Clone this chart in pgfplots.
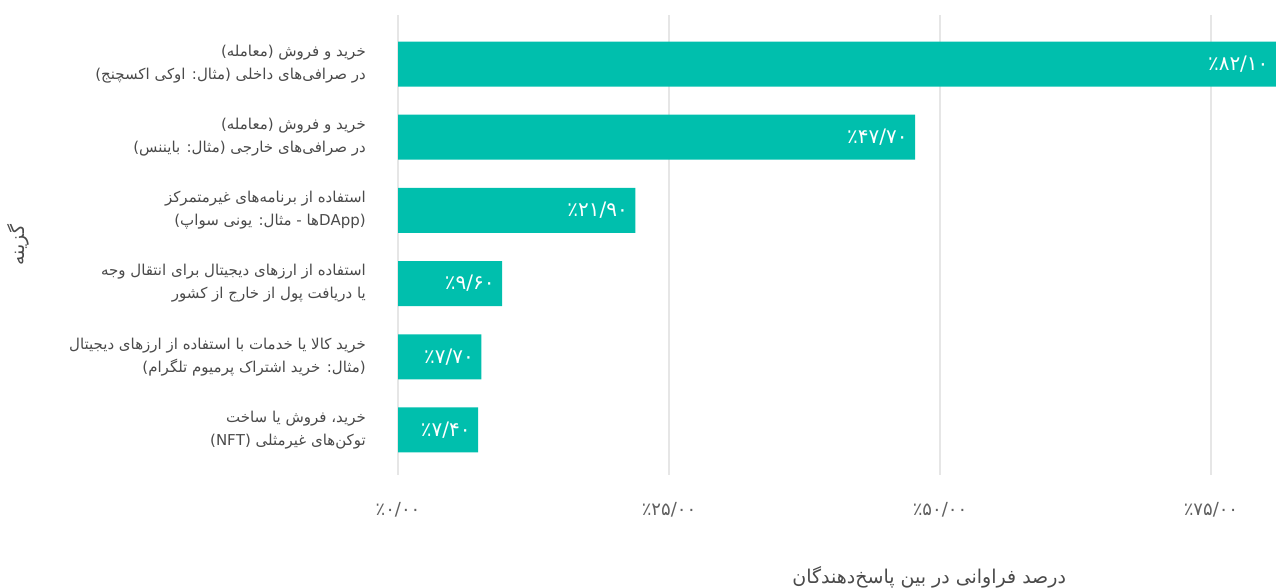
\documentclass[border=0pt]{standalone}
\usepackage{pgfplots}
\pgfplotsset{compat=1.18}
\usepackage{fontspec}
\setmainfont{DejaVu Sans}
\newfontfamily\fa[Script=Arabic]{DejaVu Sans}
\TeXXeTstate=1
\definecolor{barteal}{HTML}{00BFAD}
\definecolor{gridgray}{HTML}{E6E6E6}
\definecolor{labelgray}{HTML}{4A4A4A}
\definecolor{tickgray}{HTML}{606060}
\begin{document}
\begin{tikzpicture}[x=1pt,y=1pt]
\useasboundingbox (0,0) rectangle (1276,588);
\clip (0,0) rectangle (1276,588);
\begin{axis}[
  at={(398pt,113pt)}, anchor=south west,
  scale only axis, width=878pt, height=460pt,
  xmin=0, xmax=81,
  ymin=-0.67, ymax=5.615, y dir=reverse,
  axis line style={draw=none},
  major tick length=0pt,
  xmajorgrids, grid style={color=gridgray, line width=1.3pt},
  xtick={0,25,50,75},
  xticklabels={\beginR ٪۰/۰۰\endR, \beginR ٪۲۵/۰۰\endR, \beginR ٪۵۰/۰۰\endR, \beginR ٪۷۵/۰۰\endR},
  xticklabel style={font=\fa\fontsize{18}{18}\selectfont, text=tickgray, anchor=center, yshift=-35pt},
  ytick={0,1,2,3,4,5},
  yticklabels={
    {\beginR خرید و فروش (معامله)\endR\\\beginR در صرافی^^^^200cهای داخلی (مثال: اوکی اکسچنج)\endR},
    {\beginR خرید و فروش (معامله)\endR\\\beginR در صرافی^^^^200cهای خارجی (مثال: بایننس)\endR},
    {\beginR استفاده از برنامه^^^^200cهای غیرمتمرکز\endR\\\beginR (\beginL DApp\endL{}ها - مثال: یونی سواپ)\endR},
    {\beginR استفاده از ارزهای دیجیتال برای انتقال وجه\endR\\\beginR یا دریافت پول از خارج از کشور\endR},
    {\beginR خرید کالا یا خدمات با استفاده از ارزهای دیجیتال\endR\\\beginR (مثال: خرید اشتراک پرمیوم تلگرام)\endR},
    {\beginR خرید، فروش یا ساخت\endR\\\beginR توکن^^^^200cهای غیرمثلی (NFT)\endR}
  },
  yticklabel style={font=\fa\fontsize{15}{23}\selectfont, text=labelgray, align=right, anchor=east, inner sep=0pt, xshift=-32pt},
  xlabel={\beginR درصد فراوانی در بین پاسخ^^^^200cدهندگان\endR},
  xlabel style={font=\fa\fontsize{19}{19}\selectfont, text=labelgray, at={(axis description cs:0.605,0)}, anchor=center, yshift=-102pt},
  ylabel={\beginR گزینه\endR},
  ylabel style={font=\fa\fontsize{19}{19}\selectfont, text=labelgray, at={(axis description cs:-0.4328,0.5)}, anchor=center},
]
\addplot[xbar, bar width=45pt, fill=barteal, draw=none]
  coordinates {(82.1,0) (47.7,1) (21.9,2) (9.6,3) (7.7,4) (7.4,5)};
\addplot[draw=none, nodes near coords, point meta=explicit symbolic,
  nodes near coords style={anchor=east, xshift=-4pt, text=white, font=\fa\fontsize{20}{20}\selectfont}]
  coordinates {(81,0) [٪۸۲/۱۰] (47.7,1) [٪۴۷/۷۰] (21.9,2) [٪۲۱/۹۰] (9.6,3) [٪۹/۶۰] (7.7,4) [٪۷/۷۰] (7.4,5) [٪۷/۴۰]};
\end{axis}
\end{tikzpicture}
\end{document}
